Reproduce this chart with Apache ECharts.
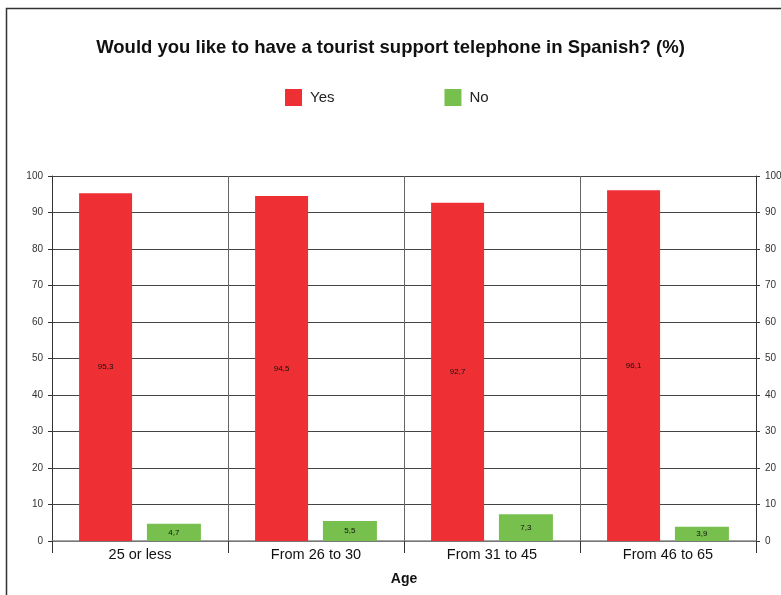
<!DOCTYPE html>
<html>
<head>
<meta charset="utf-8">
<script src="https://cdn.jsdelivr.net/npm/echarts@6/dist/echarts.min.js"></script>
<style>
  html, body { margin: 0; padding: 0; background: #fff; }
  #chart { width: 781px; height: 595px; }
</style>
</head>
<body>
<div id="chart"></div>
<script>
// Age groups and answer shares (%)
var categories = ['25 or less', 'From 26 to 30', 'From 31 to 45', 'From 46 to 65'];
var yesValues = [95.3, 94.5, 92.7, 96.1];
var noValues = [4.7, 5.5, 7.3, 3.9];
var yTicks = [0, 10, 20, 30, 40, 50, 60, 70, 80, 90, 100];

var FONT = '"Liberation Sans", Arial, sans-serif';

function commaDecimal(p) {
  return String(p.value).replace('.', ',');
}

var chart = echarts.init(document.getElementById('chart'));

var yAxisBase = {
  type: 'value',
  min: yTicks[0],
  max: yTicks[yTicks.length - 1],
  interval: yTicks[1] - yTicks[0],
  axisLine: { show: true, lineStyle: { color: '#333', width: 1 } },
  axisTick: { show: true, length: 4, lineStyle: { color: '#333' } },
  axisLabel: { fontFamily: FONT, fontSize: 10, color: '#333', margin: 9 }
};

chart.setOption({
  animation: false,
  backgroundColor: '#fff',
  textStyle: { fontFamily: FONT },
  title: {
    text: 'Would you like to have a tourist support telephone in Spanish? (%)',
    left: 'center',
    top: 33,
    textStyle: { fontFamily: FONT, fontSize: 18.5, fontWeight: 'bold', color: '#111' }
  },
  legend: {
    top: 84,
    left: 280,
    itemWidth: 17,
    itemHeight: 17,
    itemGap: 110,
    icon: 'rect',
    textStyle: { fontFamily: FONT, fontSize: 15, color: '#222', padding: [0, 0, 0, 3] },
    data: ['Yes', 'No']
  },
  graphic: [{
    type: 'rect',
    shape: { x: 6.5, y: 8.5, width: 900, height: 800 },
    style: { fill: 'none', stroke: '#333', lineWidth: 1.5 },
    silent: true
  }],
  grid: { left: 52, right: 25, top: 176, bottom: 54, outerBoundsMode: 'none' },
  xAxis: {
    type: 'category',
    data: categories,
    name: 'Age',
    nameLocation: 'middle',
    nameGap: 31,
    nameTextStyle: { fontFamily: FONT, fontSize: 14, fontWeight: 'bold', color: '#111' },
    axisLine: { show: true, lineStyle: { color: '#888', width: 1.5 } },
    axisTick: { show: true, length: 12, lineStyle: { color: '#333' } },
    axisLabel: { fontFamily: FONT, fontSize: 14.5, color: '#111', margin: 6 },
    splitLine: { show: true, lineStyle: { color: '#666', width: 1 } }
  },
  yAxis: [
    Object.assign({}, yAxisBase, {
      position: 'left',
      splitLine: { show: true, lineStyle: { color: '#444', width: 1 } }
    }),
    Object.assign({}, yAxisBase, {
      position: 'right',
      splitLine: { show: false }
    })
  ],
  series: [
    {
      name: 'Yes',
      type: 'bar',
      data: yesValues,
      barWidth: 53,
      barGap: '28%',
      itemStyle: { color: '#EE3035' },
      label: { show: true, position: 'inside', fontSize: 8, color: '#111', formatter: commaDecimal }
    },
    {
      name: 'No',
      type: 'bar',
      data: noValues,
      barWidth: 54,
      itemStyle: { color: '#78C04D' },
      label: { show: true, position: 'inside', fontSize: 8, color: '#111', formatter: commaDecimal }
    }
  ]
});
</script>
</body>
</html>
